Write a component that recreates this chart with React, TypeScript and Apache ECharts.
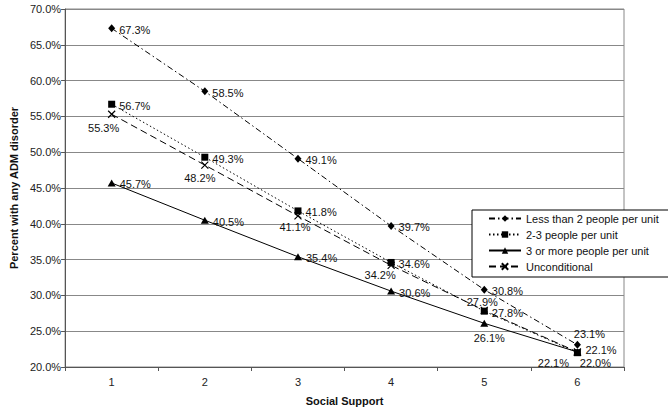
import React, { useEffect, useRef } from "react";
import * as echarts from "echarts";

const categories = ["1", "2", "3", "4", "5", "6"];
const seriesNames = [
  "Less than 2 people per unit",
  "2-3 people per unit",
  "3 or more people per unit",
  "Unconditional",
];
const lessThan2 = [67.3, 58.5, 49.1, 39.7, 30.8, 23.1];
const twoToThree = [56.7, 49.3, 41.8, 34.6, 27.8, 22.0];
const threeOrMore = [45.7, 40.5, 35.4, 30.6, 26.1, 22.1];
const unconditional = [55.3, 48.2, 41.1, 34.2, 27.9, 22.1];
const yMin = 20;
const yMax = 70;
const yStep = 5;

// label placement per point (style, not data)
type Place = { position: string; offset: number[] };
const R: Place = { position: "right", offset: [0, 1.5] };
const placements: Place[][] = [
  [R, R, R, R, R, { position: "top", offset: [12, 3] }],
  [R, R, R, R, R, { position: "bottom", offset: [18, -3] }],
  [R, R, R, R, { position: "bottom", offset: [5, 2] }, { position: "right", offset: [0, -2] }],
  [
    { position: "bottom", offset: [-8, 0] },
    { position: "bottom", offset: [-5, -1] },
    { position: "bottom", offset: [-3, -3] },
    { position: "bottom", offset: [-11, -4] },
    { position: "top", offset: [-2, 5] },
    { position: "bottom", offset: [-24, -3] },
  ],
];

const FONT = "'Liberation Sans', Arial, sans-serif";

export default function App() {
  const ref = useRef<HTMLDivElement>(null);
  useEffect(() => {
    if (!ref.current) return;
    const chart = echarts.init(ref.current, null, { renderer: "svg" });
    const values = [lessThan2, twoToThree, threeOrMore, unconditional];
    const symbols = [
      "diamond",
      "rect",
      "triangle",
      "path://M0,0L10,10M10,0L0,10",
    ];
    const symbolSizes: any[] = [[7, 8], 7, [8, 7], 7];
    const dashes: any[] = [[6, 3, 1.5, 3], [1.5, 2.5], "solid", [7, 4]];
    const series = values.map((vals, si) => ({
      name: seriesNames[si],
      type: "line",
      data: vals.map((v, i) => ({
        value: v,
        label: {
          position: placements[si][i].position,
          offset: placements[si][i].offset,
        },
      })),
      symbol: symbols[si],
      symbolSize: symbolSizes[si],
      showAllSymbol: true,
      lineStyle: { color: "#000", width: 1, type: dashes[si] },
      itemStyle:
        si === 3
          ? { color: "#000", borderColor: "#000", borderWidth: 1.2 }
          : { color: "#000", borderWidth: 0 },
      label: {
        show: true,
        distance: 4,
        color: "#111",
        fontSize: 11,
        fontFamily: FONT,
        formatter: (p: any) => p.value.toFixed(1) + "%",
      },
      z: 3,
    }));
    chart.setOption({
      animation: false,
      backgroundColor: "#fff",
      textStyle: { fontFamily: FONT },
      grid: {
        left: 55,
        right: 44,
        top: 9,
        bottom: 43,
        show: true,
        borderColor: "#888",
        borderWidth: 1,
      },
      legend: {
        orient: "vertical",
        left: 472,
        top: 210,
        itemWidth: 32,
        itemHeight: 8,
        itemGap: 5,
        padding: [3, 12, 5, 16],
        backgroundColor: "#fff",
        borderColor: "#000",
        borderWidth: 1,
        borderRadius: 0,
        textStyle: { fontSize: 11, color: "#111", fontFamily: FONT },
        data: seriesNames,
        z: 10,
      },
      xAxis: {
        type: "category",
        data: categories,
        boundaryGap: true,
        name: "Social Support",
        nameLocation: "middle",
        nameGap: 28,
        nameTextStyle: {
          fontWeight: "bold",
          fontSize: 11,
          color: "#111",
          fontFamily: FONT,
        },
        axisLine: { lineStyle: { color: "#555", width: 1 } },
        axisTick: { show: true, length: 4, lineStyle: { color: "#555" } },
        axisLabel: { fontSize: 11, color: "#222", margin: 9, fontFamily: FONT },
      },
      yAxis: {
        type: "value",
        min: yMin,
        max: yMax,
        interval: yStep,
        name: "Percent with any ADM disorder",
        nameLocation: "middle",
        nameGap: 37,
        nameTextStyle: {
          fontWeight: "bold",
          fontSize: 11,
          color: "#111",
          fontFamily: FONT,
        },
        axisLine: { show: true, lineStyle: { color: "#555", width: 1 } },
        axisTick: { show: true, length: 4, lineStyle: { color: "#555" } },
        axisLabel: {
          fontSize: 11,
          color: "#222",
          margin: 4,
          fontFamily: FONT,
          formatter: (v: number) => v.toFixed(1) + "%",
        },
        splitLine: { show: true, lineStyle: { color: "#888", width: 1 } },
      },
      series,
    });
    return () => chart.dispose();
  }, []);
  return (
    <div
      ref={ref}
      style={{
        position: "fixed",
        left: 0,
        top: 0,
        width: 668,
        height: 411,
        background: "#fff",
      }}
    />
  );
}
